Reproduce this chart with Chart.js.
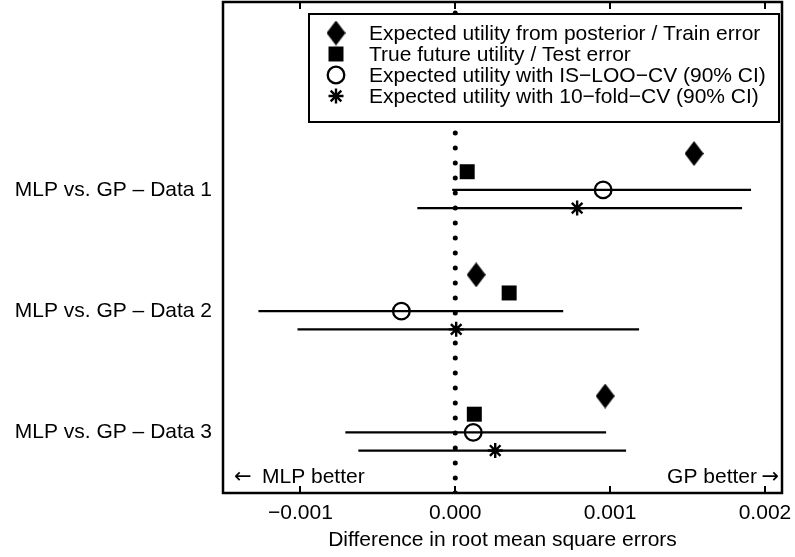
<!DOCTYPE html>
<html><head><meta charset="utf-8">
<script src="https://cdn.jsdelivr.net/npm/chart.js@4.4.1/dist/chart.umd.min.js"></script>
<style>html,body{margin:0;padding:0;background:#fff}#wrap{width:795px;height:557px}</style>
</head><body><div id="wrap"><canvas id="c" width="795" height="557"></canvas></div>
<script>
// ---- data ----
const categories = ['MLP vs. GP \u2013 Data 1', 'MLP vs. GP \u2013 Data 2', 'MLP vs. GP \u2013 Data 3'];
const xTicks = [-0.001, 0, 0.001, 0.002];
const seriesLabels = [
  'Expected utility from posterior / Train error',
  'True future utility / Test error',
  'Expected utility with IS\u2212LOO\u2212CV (90% CI)',
  'Expected utility with 10\u2212fold\u2212CV (90% CI)'
];
const trainErr   = [0.001542, 0.000135, 0.000968];
const testErr    = [0.000077, 0.000348, 0.000123];
const looMean    = [0.000955, -0.000348, 0.000116];
const looLow     = [-0.000020, -0.001271, -0.000710];
const looHigh    = [0.001910, 0.000697, 0.000974];
const kfoldMean  = [0.000787, 0.000006, 0.000258];
const kfoldLow   = [-0.000245, -0.001019, -0.000626];
const kfoldHigh  = [0.001852, 0.001187, 0.001103];
const leftNote = 'MLP better';
const rightNote = 'GP better';
const leftArrow = '\u2190', rightArrow = '\u2192';
const xTitle = 'Difference in root mean square errors';

// ---- styling / layout ----
const FONT = "'Liberation Sans', Arial, Helvetica, sans-serif";
const ARROW_FONT = "'DejaVu Sans', sans-serif";
const FS = 21;
const ROW_OFF = [-0.3, -0.15, 0, 0.15];
const Y_MIN = -0.55, Y_MAX = 3.5;

function diamondCanvas(w, h) {
  const c = document.createElement('canvas');
  c.width = w; c.height = h;
  const g = c.getContext('2d');
  g.fillStyle = '#000';
  g.beginPath();
  g.moveTo(w / 2, 0); g.lineTo(w, h / 2); g.lineTo(w / 2, h); g.lineTo(0, h / 2);
  g.closePath(); g.fill();
  return c;
}
const diamond = diamondCanvas(19, 25);

const pts = (vals, off) => vals.map((v, i) => ({ x: v, y: i + 1 + off }));

const ciSets = [];
categories.forEach((_, i) => {
  ciSets.push({ type: 'line', data: [{ x: looLow[i], y: i + 1 + ROW_OFF[2] }, { x: looHigh[i], y: i + 1 + ROW_OFF[2] }],
    borderColor: '#000', borderWidth: 2.2, pointRadius: 0, legendHide: true, order: 5 });
  ciSets.push({ type: 'line', data: [{ x: kfoldLow[i], y: i + 1 + ROW_OFF[3] }, { x: kfoldHigh[i], y: i + 1 + ROW_OFF[3] }],
    borderColor: '#000', borderWidth: 2.2, pointRadius: 0, legendHide: true, order: 5 });
});

const markerSets = [
  { label: seriesLabels[0], data: pts(trainErr, ROW_OFF[0]), pointStyle: diamond, pointRadius: 10,
    backgroundColor: '#000', borderColor: '#000', borderWidth: 0 },
  { label: seriesLabels[1], data: pts(testErr, ROW_OFF[1]), pointStyle: 'rect', pointRadius: 10.6,
    backgroundColor: '#000', borderColor: '#000', borderWidth: 0 },
  { label: seriesLabels[2], data: pts(looMean, ROW_OFF[2]), pointStyle: 'circle', pointRadius: 8.3,
    backgroundColor: 'rgba(0,0,0,0)', borderColor: '#000', borderWidth: 2.3 },
  { label: seriesLabels[3], data: pts(kfoldMean, ROW_OFF[3]), pointStyle: 'star', pointRadius: 7.5,
    backgroundColor: '#000', borderColor: '#000', borderWidth: 2.4 }
].map(d => Object.assign(d, { type: 'scatter', showLine: false, order: 1, pointHoverRadius: d.pointRadius }));

const zeroLine = { type: 'line', data: [{ x: 0, y: Y_MAX }, { x: 0, y: Y_MIN }], borderColor: '#000',
  borderWidth: 5, borderDash: [0, 15], borderCapStyle: 'round', pointRadius: 0, legendHide: true, order: 10 };

const framePlugin = {
  id: 'frame',
  afterDatasetsDraw(chart) {
    const { ctx, chartArea: a, scales } = chart;
    ctx.save();
    // inner ticks
    ctx.strokeStyle = '#000'; ctx.lineWidth = 2;
    xTicks.forEach(t => {
      const px = Math.round(scales.x.getPixelForValue(t));
      ctx.beginPath(); ctx.moveTo(px, a.bottom); ctx.lineTo(px, a.bottom - 7); ctx.stroke();
      ctx.beginPath(); ctx.moveTo(px, a.top); ctx.lineTo(px, a.top + 7); ctx.stroke();
    });
    // notes
    ctx.fillStyle = '#000';
    ctx.textBaseline = 'alphabetic';
    ctx.font = FS + 'px ' + FONT;
    ctx.textAlign = 'left'; ctx.fillText(leftNote, a.left + 39, a.bottom - 10);
    ctx.textAlign = 'right'; ctx.fillText(rightNote, a.right - 25, a.bottom - 10);
    ctx.font = FS + 'px ' + ARROW_FONT;
    ctx.textAlign = 'left'; ctx.fillText(leftArrow, a.left + 11, a.bottom - 10);
    ctx.textAlign = 'right'; ctx.fillText(rightArrow, a.right - 3, a.bottom - 10);
    // legend box
    const bx = 309, by = 14, bw = 470, bh = 108;
    ctx.fillStyle = '#fff'; ctx.fillRect(bx, by, bw, bh);
    ctx.lineWidth = 2; ctx.strokeStyle = '#000'; ctx.strokeRect(bx, by, bw, bh);
    const rows = [33, 54, 75, 96];
    const ms = chart.data.datasets.filter(d => !d.legendHide);
    ms.forEach((d, i) => {
      ctx.save();
      ctx.fillStyle = d.backgroundColor; ctx.strokeStyle = d.borderColor; ctx.lineWidth = d.borderWidth;
      Chart.helpers.drawPoint(ctx, { pointStyle: d.pointStyle, radius: d.pointRadius, rotation: 0, borderWidth: d.borderWidth }, 336, rows[i]);
      ctx.restore();
      ctx.fillStyle = '#000'; ctx.textAlign = 'left'; ctx.textBaseline = 'middle';
      ctx.font = FS + 'px ' + FONT;
      ctx.fillText(d.label, 369, rows[i] + 1);
    });
    // frame
    ctx.lineWidth = 2.5; ctx.strokeStyle = '#000';
    ctx.strokeRect(a.left, a.top, a.right - a.left, a.bottom - a.top);
    ctx.restore();
  }
};

new Chart(document.getElementById('c'), {
  type: 'scatter',
  data: { datasets: [zeroLine, ...ciSets, ...markerSets] },
  options: {
    responsive: false, animation: false,
    layout: { autoPadding: false, padding: { top: 2, right: 13, left: 0, bottom: 0 } },
    plugins: { legend: { display: false }, tooltip: { enabled: false } },
    scales: {
      x: {
        type: 'linear', min: -0.0015, max: 0.00211,
        afterBuildTicks: s => { s.ticks = xTicks.map(v => ({ value: v })); },
        afterFit: s => { s.height = 64; s.paddingLeft = 0; s.paddingRight = 0; },
        grid: { display: false, drawTicks: false },
        border: { display: false },
        ticks: { padding: 8, color: '#000', font: { family: FONT, size: FS },
          callback: v => (v < 0 ? '\u2212' : '') + Math.abs(v).toFixed(3) },
        title: { display: true, text: xTitle, color: '#000', font: { family: FONT, size: FS }, padding: { top: 4, bottom: 4 } }
      },
      y: {
        type: 'linear', reverse: true, min: Y_MIN, max: Y_MAX,
        afterBuildTicks: s => { s.ticks = categories.map((_, i) => ({ value: i + 1 })); },
        afterFit: s => { s.width = 223; s.paddingTop = 0; s.paddingBottom = 0; },
        grid: { display: false, drawTicks: false },
        border: { display: false },
        ticks: { padding: 11, color: '#000', font: { family: FONT, size: FS },
          callback: v => categories[v - 1] }
      }
    }
  },
  plugins: [framePlugin]
});
</script></body></html>
